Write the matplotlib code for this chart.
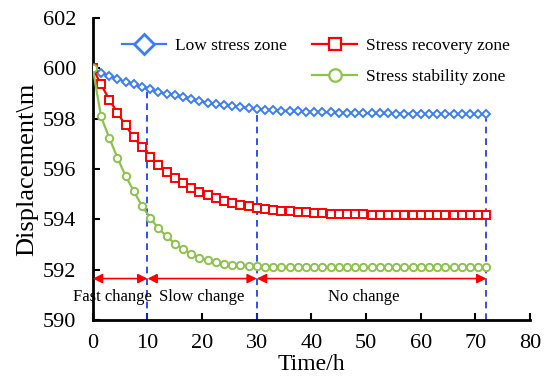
import matplotlib
matplotlib.use("Agg")
import matplotlib.pyplot as plt
from matplotlib.lines import Line2D
import numpy as np

plt.rcParams["font.family"] = ["Liberation Serif", "DejaVu Serif"]

# time steps (h), one point every 1.5 h
time_h = np.arange(0, 72.1, 1.5)

low_stress = [
    600.00, 599.83, 599.70, 599.58, 599.46, 599.36, 599.26, 599.16, 599.06, 598.99,
    598.94, 598.85, 598.77, 598.69, 598.64, 598.58, 598.54, 598.50, 598.46, 598.42,
    598.39, 598.36, 598.34, 598.32, 598.30, 598.29, 598.28, 598.27, 598.26, 598.25,
    598.24, 598.23, 598.23, 598.22, 598.22, 598.21, 598.21, 598.20, 598.20, 598.20,
    598.19, 598.19, 598.19, 598.19, 598.18, 598.18, 598.18, 598.18, 598.18,
]
stress_recovery = [
    600.00, 599.36, 598.76, 598.24, 597.73, 597.26, 596.86, 596.49, 596.17, 595.89,
    595.66, 595.44, 595.26, 595.09, 594.96, 594.85, 594.74, 594.65, 594.58, 594.52,
    594.46, 594.42, 594.38, 594.35, 594.32, 594.30, 594.28, 594.26, 594.25, 594.23,
    594.22, 594.21, 594.20, 594.20, 594.19, 594.19, 594.18, 594.18, 594.18, 594.17,
    594.17, 594.17, 594.17, 594.17, 594.17, 594.17, 594.17, 594.17, 594.17,
]
stress_stability = [
    600.00, 598.09, 597.24, 596.45, 595.72, 595.12, 594.53, 594.06, 593.64, 593.33,
    593.04, 592.82, 592.64, 592.48, 592.37, 592.29, 592.24, 592.20, 592.17, 592.14,
    592.13, 592.12, 592.11, 592.11, 592.11, 592.10, 592.10, 592.10, 592.10, 592.10,
    592.10, 592.10, 592.10, 592.10, 592.10, 592.10, 592.10, 592.10, 592.10, 592.10,
    592.10, 592.10, 592.10, 592.10, 592.10, 592.10, 592.10, 592.10, 592.10,
]

stage_bounds = [0, 10, 30, 72]
stage_names = ["Fast change", "Slow change", "No change"]
stage_text_x = [3.5, 20, 49.5]

blue = "#3B7DF5"
red = "#FF0000"
green = "#8CC34B"

fig, ax = plt.subplots(figsize=(5.46, 3.82), dpi=100)
fig.subplots_adjust(left=0.170, right=0.971, top=0.953, bottom=0.162)

ax.plot(time_h, low_stress, color=blue, lw=1.6, marker="D", ms=4, mfc="white",
        mew=1.4, zorder=3)
ax.plot(time_h, stress_recovery, color=red, lw=1.6, marker="s", ms=5.3, mfc="white",
        mew=1.4, zorder=3)
ax.plot(time_h, stress_stability, color=green, lw=1.6, marker="o", ms=5.3, mfc="white",
        mew=1.4, zorder=3)

# vertical stage separators up to the low stress curve
for xb in stage_bounds[1:]:
    ytop = np.interp(xb, time_h, low_stress)
    ax.vlines(xb, 590, ytop, colors="#1030F0", linestyles=(0, (4, 3)), lw=1.2, zorder=2)

# stage arrows and labels
arrow_y = 591.65
for i in range(3):
    ax.annotate("", xy=(stage_bounds[i], arrow_y), xytext=(stage_bounds[i + 1], arrow_y),
                arrowprops=dict(arrowstyle="<|-|>", color=red, lw=1.2, mutation_scale=14,
                                shrinkA=0, shrinkB=0))
    ax.text(stage_text_x[i], 590.9, stage_names[i], ha="center", va="center", fontsize=12)

ax.set_xlim(0, 80)
ax.set_ylim(590, 602)
ax.set_xticks(range(0, 81, 10))
ax.set_yticks(range(590, 603, 2))
ax.tick_params(direction="in", labelsize=16, width=1.5, length=5)
ax.tick_params(axis="y", pad=12)
ax.tick_params(axis="x", pad=10)
ax.spines["top"].set_visible(False)
ax.spines["right"].set_visible(False)
ax.spines["left"].set_linewidth(2)
ax.spines["bottom"].set_linewidth(2)
ax.set_xlabel("Time/h", fontsize=17, labelpad=1)
ax.set_ylabel("Displacement\\m", fontsize=19, labelpad=3)

# legend handles with larger markers than the plotted points
h_low = Line2D([], [], color=blue, lw=1.6, marker="D", ms=10, mfc="white", mew=2)
h_rec = Line2D([], [], color=red, lw=1.6, marker="s", ms=9, mfc="white", mew=1.6)
h_sta = Line2D([], [], color=green, lw=1.6, marker="o", ms=9, mfc="white", mew=1.6)
blank = Line2D([], [], color="none")
ax.legend([h_low, blank, h_rec, h_sta],
          ["Low stress zone", "", "Stress recovery zone", "Stress stability zone"],
          ncol=2, loc="upper left", bbox_to_anchor=(0.03, 0.985), frameon=False,
          fontsize=12.5, handlelength=2.55, labelspacing=0.85,
          columnspacing=1.45, handletextpad=0.55)

fig.savefig("out.png", dpi=100)
